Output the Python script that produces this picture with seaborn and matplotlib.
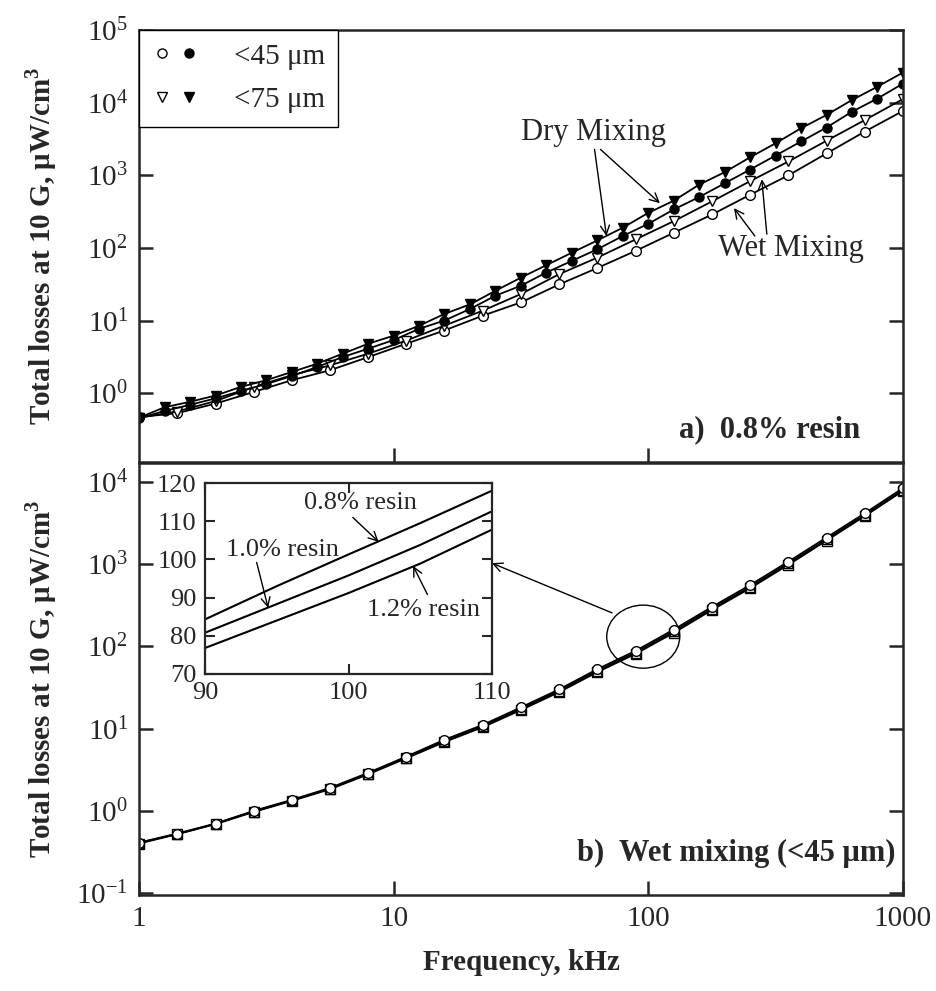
import matplotlib
matplotlib.use("Agg")
import matplotlib.pyplot as plt
import seaborn as sns
import pandas as pd
from matplotlib.lines import Line2D
from matplotlib.legend_handler import HandlerTuple
from matplotlib.patches import Ellipse
from matplotlib.ticker import FixedLocator, NullLocator

# ---- data ----
freq_wet = [1.0, 1.41, 2.0, 2.82, 3.98, 5.62, 7.94, 11.2, 15.8, 22.4, 31.6,
            44.7, 63.1, 89.1, 126, 178, 251, 355, 501, 708, 1000]
freq_dry = [1.0, 1.26, 1.58, 2.0, 2.51, 3.16, 3.98, 5.01, 6.31, 7.94, 10.0,
            12.6, 15.8, 20.0, 25.1, 31.6, 39.8, 50.1, 63.1, 79.4, 100,
            126, 158, 200, 251, 316, 398, 501, 631, 794, 1000]

# a) 0.8% resin
wet_45 = [0.47, 0.53, 0.72, 1.04, 1.51, 2.07, 3.14, 4.8, 7.3, 11.7, 17.8,
          31.5, 53, 91, 162, 289, 540, 1000, 2000, 4000, 7700]
wet_75 = [0.46, 0.56, 0.78, 1.22, 1.77, 2.42, 3.5, 5.3, 8.5, 13.7, 23.2,
          43.6, 73.6, 131, 234, 438, 830, 1550, 2990, 5760, 11200]
dry_45 = [0.45, 0.57, 0.69, 0.85, 1.07, 1.34, 1.72, 2.3, 3.15, 4.1, 5.4,
          7.7, 10, 14.5, 22, 30.2, 45.9, 66.4, 96, 146, 215,
          339, 500, 780, 1200, 1870, 2920, 4550, 7520, 11400, 18300]
dry_75 = [0.46, 0.64, 0.76, 0.93, 1.22, 1.51, 1.96, 2.55, 3.5, 4.8, 6.2,
          8.5, 12.3, 16.8, 25.7, 39, 58, 86, 127, 190, 304,
          448, 740, 1110, 1770, 2760, 4450, 6770, 10900, 16600, 26000]

# b) wet mixing <45 um, three resin contents
resin_08 = [0.41, 0.53, 0.70, 1.0, 1.36, 1.9, 2.9, 4.56, 7.3, 11.1, 18.1,
            30, 52.8, 88, 160, 302, 555, 1070, 2100, 4140, 8370]
resin_10 = [0.41, 0.52, 0.70, 0.98, 1.34, 1.86, 2.83, 4.45, 7.05, 10.7, 17.4,
            28.8, 50.5, 84, 152, 288, 528, 1020, 1990, 3950, 7980]
resin_12 = [0.40, 0.52, 0.69, 0.97, 1.32, 1.83, 2.78, 4.35, 6.85, 10.4, 16.8,
            27.8, 48.6, 81, 146, 277, 508, 980, 1930, 3830, 7750]

# inset (linear zoom around 100 kHz)
inset_freq = [90, 95, 100, 105, 110]
inset_08 = [84.3, 93.0, 101.3, 109.5, 118.0]
inset_10 = [80.8, 88.3, 95.8, 103.8, 112.6]
inset_12 = [76.8, 84.0, 91.2, 98.9, 107.8]

sns.set_style("ticks")
plt.rcParams["font.family"] = ["Liberation Serif", "DejaVu Serif"]
plt.rcParams["mathtext.fontset"] = "custom"
plt.rcParams["mathtext.rm"] = "Liberation Serif"
plt.rcParams["mathtext.bf"] = "Liberation Serif:bold"
plt.rcParams["axes.linewidth"] = 1.8

fig = plt.figure(figsize=(9.37, 9.91), dpi=100)
ax_a = fig.add_axes([0.1483, 0.5338, 0.8154, 0.4359])
ax_b = fig.add_axes([0.1483, 0.0969, 0.8154, 0.4359])

line_kw = dict(color="black", lw=1.3, markeredgecolor="black", markeredgewidth=1.0)


def draw(ax, x, y, marker, filled, ms=7):
    df = pd.DataFrame({"f": x, "p": y})
    sns.lineplot(data=df, x="f", y="p", ax=ax, marker=marker, markersize=ms,
                 markerfacecolor="black" if filled else "white", **line_kw)


# panel a
draw(ax_a, freq_wet, wet_45, "o", False)
draw(ax_a, freq_wet, wet_75, "v", False, ms=7.5)
draw(ax_a, freq_dry, dry_45, "o", True, ms=6.5)
draw(ax_a, freq_dry, dry_75, "v", True, ms=7.5)

# panel b
draw(ax_b, freq_wet, resin_12, "s", False)
draw(ax_b, freq_wet, resin_10, "^", False)
draw(ax_b, freq_wet, resin_08, "o", False)

for ax in (ax_a, ax_b):
    ax.set_xscale("log")
    ax.set_yscale("log")
    ax.set_xlim(1, 1000)
    ax.set_xlabel("")
    ax.set_ylabel("Total losses at 10 G, μW/cm$^{\\mathbf{3}}$",
                  fontsize=21, fontweight="bold")
    ax.yaxis.set_label_coords(-0.105, 0.5)
    ax.xaxis.set_minor_locator(NullLocator())
    ax.yaxis.set_minor_locator(NullLocator())
    ax.tick_params(which="major", direction="in", length=10, width=1.8,
                   right=True, top=False, labelsize=21, pad=8)
    for sp in ax.spines.values():
        sp.set_linewidth(1.8)

ax_a.set_ylim(0.113, 1e5)
ax_a.yaxis.set_major_locator(FixedLocator([1e0, 1e1, 1e2, 1e3, 1e4, 1e5]))
ax_a.set_xticks([10, 100])
ax_a.tick_params(labelbottom=False)

ax_b.set_ylim(0.095, 1.69e4)
ax_b.yaxis.set_major_locator(FixedLocator([1e-1, 1e0, 1e1, 1e2, 1e3, 1e4]))
ax_b.set_xticks([1, 10, 100, 1000], labels=["1", "10", "100", "1000"])
ax_b.set_xlabel("Frequency, kHz", fontsize=21, fontweight="bold")
ax_b.xaxis.set_label_coords(0.5, -0.125)

# legend panel a
h45 = (Line2D([], [], ls="none", marker="o", ms=6.5, mfc="white", mec="black"),
       Line2D([], [], ls="none", marker="o", ms=6.5, mfc="black", mec="black"))
h75 = (Line2D([], [], ls="none", marker="v", ms=7, mfc="white", mec="black"),
       Line2D([], [], ls="none", marker="v", ms=7, mfc="black", mec="black"))
leg = ax_a.legend([h45, h75], ["<45 μm", "<75 μm"],
                  handler_map={tuple: HandlerTuple(ndivide=None, pad=0.3)},
                  loc="upper left", borderaxespad=0, fancybox=False,
                  edgecolor="black", fontsize=21, handlelength=1.6,
                  handletextpad=1.2, labelspacing=0.6, borderpad=0.45)
leg.get_frame().set_linewidth(1.0)
leg.get_frame().set_alpha(1)

arrow = dict(arrowstyle="->", color="black", lw=1.0, shrinkA=0, shrinkB=0,
             mutation_scale=16)

ax_a.text(61, 3880, "Dry Mixing", fontsize=22, ha="center", va="center")
ax_a.annotate("", xy=(68.5, 146), xytext=(61.5, 2270), arrowprops=arrow)
ax_a.annotate("", xy=(111, 413), xytext=(64.9, 2270), arrowprops=arrow)
ax_a.text(362, 97, "Wet Mixing", fontsize=22, ha="center", va="center")
ax_a.annotate("", xy=(217, 353), xytext=(262, 146), arrowprops=arrow)
ax_a.annotate("", xy=(279, 881), xytext=(292, 155), arrowprops=arrow)
ax_a.text(0.944, 0.074, "a)  0.8% resin", transform=ax_a.transAxes,
          fontsize=22, fontweight="bold", ha="right", va="center")

ax_b.text(0.990, 0.097, "b)  Wet mixing (<45 μm)", transform=ax_b.transAxes,
          fontsize=22, fontweight="bold", ha="right", va="center")

# ellipse marking the zoomed region
ax_b.add_patch(Ellipse((0.660, 0.598), 0.0955, 0.146, transform=ax_b.transAxes,
                       fill=False, edgecolor="black", lw=1.0))

# inset
ax_in = fig.add_axes([0.2188, 0.3199, 0.3063, 0.1927])
sns.lineplot(x=inset_freq, y=inset_08, ax=ax_in, color="black", lw=1.5)
sns.lineplot(x=inset_freq, y=inset_10, ax=ax_in, color="black", lw=1.5)
sns.lineplot(x=inset_freq, y=inset_12, ax=ax_in, color="black", lw=1.5)
ax_in.set_xlim(90, 110)
ax_in.set_ylim(70, 120)
ax_in.set_xticks([90, 100, 110])
ax_in.set_yticks([70, 80, 90, 100, 110, 120])
ax_in.tick_params(direction="in", length=7, width=1.5, right=True, top=True,
                  labelsize=19, pad=6)
for sp in ax_in.spines.values():
    sp.set_linewidth(1.6)
ax_in.text(100.8, 114.8, "0.8% resin", fontsize=19, ha="center", va="center")
ax_in.annotate("", xy=(102.1, 104.6), xytext=(100.3, 111.0), arrowprops=arrow)
ax_in.text(95.4, 102.5, "1.0% resin", fontsize=19, ha="center", va="center")
ax_in.annotate("", xy=(94.4, 87.3), xytext=(93.6, 99.2), arrowprops=arrow)
ax_in.text(105.2, 86.8, "1.2% resin", fontsize=19, ha="center", va="center")
ax_in.annotate("", xy=(104.5, 98.3), xytext=(105.5, 90.8), arrowprops=arrow)

ax_b.annotate("", xy=(110, 99), xycoords=ax_in.transData,
              xytext=(72, 255), textcoords="data",
              arrowprops=dict(arrowstyle="->", color="black", lw=1.0,
                              shrinkA=0, shrinkB=0, mutation_scale=16))

fig.savefig("out.png", dpi=100)
